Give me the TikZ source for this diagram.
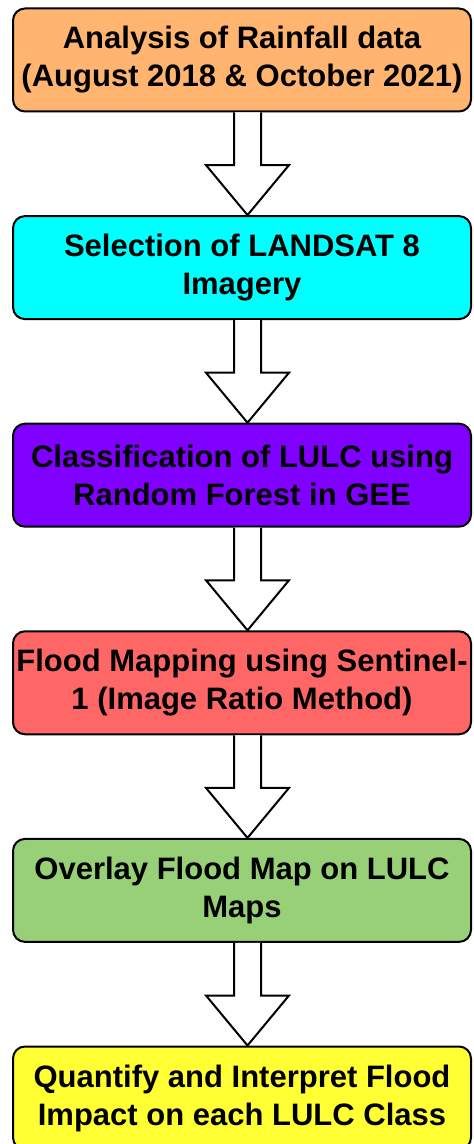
\documentclass[tikz,border=0pt]{standalone}
\usepackage{fontspec}
\setmainfont{Liberation Sans}
\usetikzlibrary{positioning,calc}
\definecolor{cRain}{HTML}{FFB570}
\definecolor{cLandsat}{HTML}{00FFFF}
\definecolor{cLulc}{HTML}{7F00FF}
\definecolor{cFlood}{HTML}{FF6666}
\definecolor{cOverlay}{HTML}{97D077}
\definecolor{cImpact}{HTML}{FFFF33}
\tikzset{
  stage/.style={draw=black,line width=1pt,rounded corners=6pt,
    minimum width=229pt,minimum height=51.5pt,inner sep=0pt,align=center,
    font=\fontsize{15.5}{19}\selectfont\bfseries},
  blockarrow/.style={draw=black,fill=white,line width=1pt,line join=miter},
}

\begin{document}
\begin{tikzpicture}[x=0.5pt,y=0.5pt,node distance=51.3pt]
  \useasboundingbox (0,0) rectangle (473,-1144);
  \node[stage,fill=cRain] (rain) at (242,-60) {Analysis of Rainfall data\\(August 2018 \& October 2021)};
  \node[stage,fill=cLandsat,below=of rain] (landsat) {Selection of LANDSAT 8\\Imagery};
  \node[stage,fill=cLulc,below=of landsat] (lulc) {Classification of LULC using\\Random Forest in GEE};
  \node[stage,fill=cFlood,below=of lulc] (flood) {Flood Mapping using Sentinel-\\1 (Image Ratio Method)};
  \node[stage,fill=cOverlay,below=of flood] (overlay) {Overlay Flood Map on LULC\\Maps};
  \node[stage,fill=cImpact,below=of overlay] (impact) {Quantify and Interpret Flood\\Impact on each LULC Class};
  % hollow arrows between the stages
  \foreach \a/\b in {rain/landsat,landsat/lulc,lulc/flood,flood/overlay,overlay/impact}
    \draw[blockarrow] ($(\a.south)+(-8,0)$) -- ($(\b.north)+(-8,50)$) -- ($(\b.north)+(-36,50)$)
      -- ($(\b.north)+(5.5,0)$) -- ($(\b.north)+(47,50)$) -- ($(\b.north)+(19,50)$) -- ($(\a.south)+(19,0)$);
\end{tikzpicture}
\end{document}
